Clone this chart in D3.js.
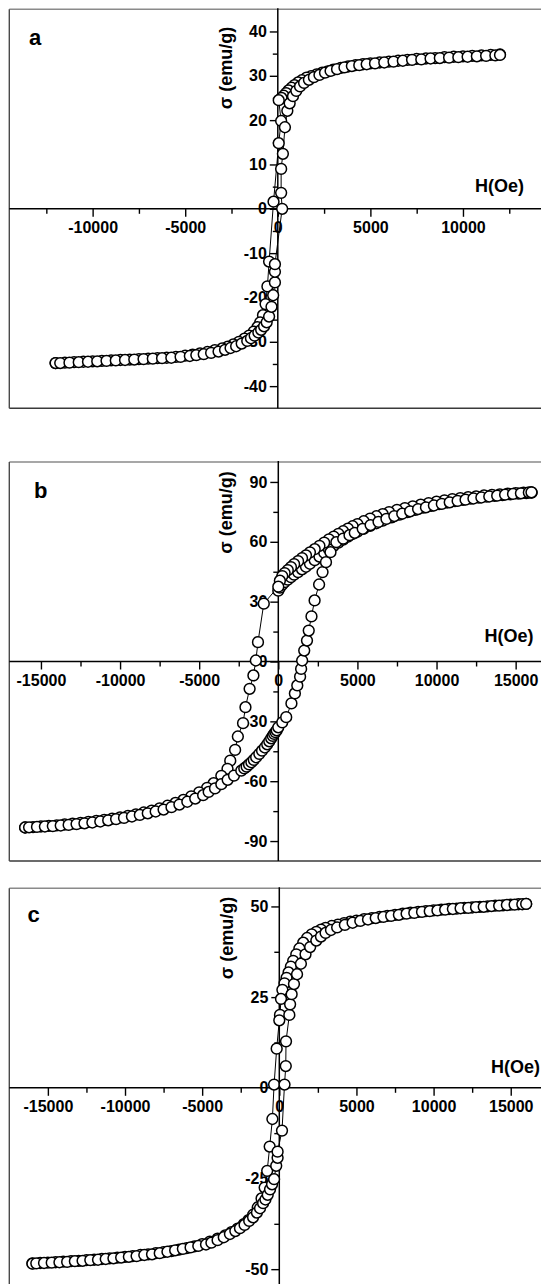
<!DOCTYPE html>
<html><head><meta charset="utf-8">
<script src="https://cdn.jsdelivr.net/npm/d3@7/dist/d3.min.js"></script>
<style>html,body{margin:0;padding:0;background:#fff;} svg{display:block;}</style>
</head><body>
<svg id="chart" width="541" height="1284"></svg>
<script>
// ---------------- DATA ----------------
// Panel a : descending branch
const hA_desc = [12000,11500,11000,10500,10000,9500,9000,8500,8000,7500,7000,6500,6000,5500,5000,
  4600,4200,3800,3400,3000, 2700,2400,2100,1800,
  1550,1300,1100,900,740,580,450,320,200,50, 180,50,
  -230,-470,-560,-660,-800,-950,-1100,-1300,-1550,-1800, -2100,-2400,-2700,-3000,
  -3400,-3800,-4200,-4600,-5000,
  -5500,-6000,-6500,-7000,-7500,-8000,-8500,-9000,-9500,-10000,-10500,-11000,-11500,-12000];
const sA_desc = [34.8,34.7,34.6,34.5,34.4,34.3,34.2,34.0,33.9,33.8,33.6,33.4,33.2,33.0,32.8,
  32.6,32.4,32.1,31.8,31.4, 31.0,30.7,30.3,29.9,
  29.6,29.0,28.5,27.9,27.3,26.7,26.1,25.5,25.0,24.5, 19.8,14.8,
  1.6,-11.9,-17.5,-21.5,-24.0,-25.6,-26.7,-27.7,-28.6,-29.3, -30.0,-30.6,-31.1,-31.5,
  -31.9,-32.3,-32.6,-32.9,-33.1,
  -33.4,-33.6,-33.7,-33.8,-33.9,-34.0,-34.1,-34.2,-34.3,-34.4,-34.5,-34.6,-34.7,-34.8];
// Panel a : ascending branch
const hA_asc = [-12000,-11750,-11250,-10750,-10250,-9750,-9250,-8750,-8250,-7750,-7250,-6750,-6250,-5750,-5250,-4750,
  -4400,-4000,-3600,-3200,-2850, -2550,-2250,-1950,-1650,
  -1450,-1250,-1050,-900,-740,-600, -470,-340,-250,-155,-155,-155,
  235,180,180,275,385,515,
  640,820,1000,1200,1420,1680,1950,2250,2550,2850,
  3200,3600,4000,4400,4800,
  5250,5750,6250,6750,7250,7750,8250,8750,9250,9750,10250,10750,11250,11750,12000];
const sA_asc = [-34.8,-34.8,-34.7,-34.6,-34.5,-34.4,-34.3,-34.2,-34.1,-34.0,-33.9,-33.8,-33.7,-33.6,-33.4,-33.2,
  -33.0,-32.8,-32.5,-32.2,-31.8, -31.4,-31.0,-30.4,-29.8,
  -29.2,-28.6,-27.9,-27.3,-26.5,-25.6, -24.3,-22.1,-19.5,-16.6,-14.2,-12.5,
  0,3.6,9.0,12.4,18.4,22.1,
  23.8,25.4,26.6,27.6,28.4,29.1,29.7,30.2,30.7,31.1,
  31.5,31.9,32.2,32.4,32.6,
  32.8,33.0,33.2,33.4,33.6,33.7,33.9,34.0,34.1,34.2,34.3,34.4,34.5,34.6,34.7];

// Panel b : initial curve
const hB_init = [0,100,250,400,600,800,1000, 1250,1500,1750,2000,
  2300,2600,2900,3200,3500,3800,4100,4400,4700,5000,
  5400,5800,6200,6600,
  7167,7667,8167,8667,9167,9667,10167,10667,11167,11667,12167,12667,13167,13667,14167,14667,15167,15667,16000];
const sB_init = [35.5,37.0,38.5,39.8,41.0,42.3,43.5, 44.8,46.2,47.5,49.0,
  50.8,52.6,54.5,56.3,58.0,59.6,61.1,62.6,63.9,65.1,
  66.6,68.0,69.3,70.6,
  72.2,73.6,74.9,76.0,77.1,78.0,78.9,79.7,80.4,81.0,81.6,82.1,82.6,83.0,83.4,83.8,84.1,84.4,84.6];
// Panel b : descending branch
const hB_desc = [16000,15500,15000,14500,14000,13500,13000,12500,12000,11500,11000,10500,10000,9500,9000,8500,8000,7500,7000,
  6600,6200,5800,5400,
  5000,4700,4400,4100,3800,3500,3200,2900,2600,2300,2000,
  1750,1500,1250,1000,
  800,600,400,250,100,0,
  -917,-1284,-1420,-1573,-1813,-2075,-2228,-2556,-2730,-3036,-3210,-3600,-4087,
  -4500,
  -5000,-5500,-6000,-6500,-7000,-7500,-8000,-8500,-9000,-9500,-10000,-10500,-11000,-11500,-12000,-12500,-13000,-13500,-14000,-14500,-15000,-15500,-16000];
const sB_desc = [84.8,84.6,84.4,84.1,83.8,83.5,83.2,82.8,82.4,81.9,81.4,80.8,80.1,79.4,78.6,77.8,76.9,76.0,74.9,
  73.9,72.8,71.6,70.3,
  68.9,67.8,66.6,65.3,64.0,62.6,61.2,59.6,58.0,56.3,54.7,
  53.2,51.8,50.3,48.8,
  47.3,45.8,44.3,42.8,40.5,37.5,
  29.0,9.7,0.5,-7.0,-13.7,-22.9,-30.9,-37.6,-44.3,-49.7,-53.8,-57.3,-61.0,
  -63.3,
  -65.6,-67.6,-69.4,-70.9,-72.3,-73.6,-74.7,-75.7,-76.6,-77.4,-78.1,-78.8,-79.4,-79.9,-80.4,-80.9,-81.3,-81.7,-82.1,-82.4,-82.7,-83.0,-83.2];
// Panel b : ascending branch
const hB_asc = [-16000,-15750,-15250,-14750,-14250,-13750,-13250,-12750,-12250,-11750,-11250,-10750,-10250,-9750,-9250,-8750,-8250,-7750,-7250,-6750,-6250,-5750,-5250,-4750,
  -4400,-4000,-3600,-3200,-2800,
  -2338,-2150,-2000,-1850,-1700,-1550,-1400,-1200,-1027,-850,-700,-570,-450,-350,-262,-180,-100,0,
  250,500,830,1048,1200,1377,1442,1507,1638,1813,
  1923,2097,2294,2578,2796,3014,3298,3669,
  4100,4500,
  4833,5333,5833,6333,6833,7333,7833,8333,8833,9333,9833,10333,10833,11333,11833,12333,12833,13333,13833,14333,14833,15333,15833,16000];
const sB_asc = [-83.2,-83.1,-82.9,-82.7,-82.5,-82.2,-81.9,-81.5,-81.1,-80.7,-80.2,-79.6,-79.0,-78.4,-77.7,-76.9,-76.1,-75.2,-74.2,-73.0,-71.7,-70.3,-68.7,-67.0,
  -65.4,-63.6,-61.5,-59.3,-57.2,
  -54.7,-53.6,-52.7,-51.6,-50.5,-49.3,-48.0,-46.3,-44.7,-43.1,-41.5,-40.0,-38.5,-37.3,-36.3,-35.4,-34.5,-33.0,
  -30.5,-27.9,-21.0,-16.0,-12.0,-7.6,-3.7,0.5,5.5,10.5,
  15.5,22.6,30.6,38.6,44.8,49.8,54.8,59.8,
  61.6,63.3,
  64.5,66.5,68.4,70.0,71.5,72.9,74.1,75.3,76.4,77.3,78.2,79.0,79.8,80.5,81.1,81.7,82.2,82.7,83.1,83.6,84.0,84.3,84.7,84.8];

// Panel c : descending branch
const hC_desc = [16000,15500,15000,14500,14000,13500,13000,12500,12000,11500,11000,10500,10000,9500,9000,8500,8000,7500,7000,6500,6000,5500,5000,
  4600,4200,3800,3400,3000, 2700,2400,2100,1800,1550, 1300,1100,900,750,600,
  470,337,200,110,45, 0,-170,-338,-448,-623, -785,-950,-1150,-1400,-1700,
  -2000,-2300,-2700,-3100,-3500, -4000,-4500,
  -5000,-5500,-6000,-6500,-7000,-7500,-8000,-8500,-9000,-9500,-10000,-10500,-11000,-11500,-12000,-12500,-13000,-13500,-14000,-14500,-15000,-15500,-16000];
const sC_desc = [50.7,50.6,50.5,50.3,50.2,50.0,49.9,49.7,49.6,49.4,49.3,49.1,48.9,48.7,48.5,48.3,48.0,47.7,47.4,47.1,46.8,46.5,46.1,
  45.8,45.4,45.0,44.6,44.1, 43.6,43.0,42.3,41.3,40.0, 38.4,36.8,35.0,33.4,31.8,
  30.3,28.8,27.0,24.5,20.1, 18.6,10.8,0.9,-8.6,-16.2, -22.9,-27.5,-30.5,-33.0,-35.0,
  -36.5,-37.6,-38.8,-39.8,-40.7, -41.6,-42.4,
  -43.1,-43.7,-44.2,-44.6,-45.0,-45.3,-45.6,-45.9,-46.1,-46.4,-46.6,-46.8,-47.0,-47.2,-47.4,-47.5,-47.7,-47.8,-47.9,-48.1,-48.2,-48.3,-48.4];
// Panel c : ascending branch
const hC_asc = [-16000,-15750,-15250,-14750,-14250,-13750,-13250,-12750,-12250,-11750,-11250,-10750,-10250,-9750,-9250,-8750,-8250,-7750,-7250,-6750,-6250,-5750,-5250,-4750,
  -4400,-4000,-3600,-3200,-2850,-2550,-2250,-1950,-1700,-1450,-1250,-1050,-900,-750,-600,-470,-338,
  -200,-110,-110,175,338,420,435,650,700,800,950,1150,1400,1700,2000,2400,2700,3000,
  3350,3750,4250,4750,5250,5750,6250,6750,7250,7750,8250,8750,9250,9750,10250,10750,11250,11750,12250,12750,13250,13750,14250,14750,15250,15750,16000];
const sC_asc = [-48.5,-48.4,-48.3,-48.2,-48.1,-48.0,-47.8,-47.7,-47.5,-47.4,-47.2,-47.0,-46.8,-46.6,-46.4,-46.1,-45.9,-45.6,-45.2,-44.8,-44.4,-44.0,-43.6,-43.2,
  -42.7,-42.0,-41.2,-40.3,-39.5,-38.7,-37.8,-36.7,-35.7,-34.4,-33.2,-31.8,-30.8,-29.5,-28.0,-26.6,-25.2,
  -21.5,-19.3,-17.6,-11.8,0.9,6.0,12.8,20.1,23.0,25.8,28.6,31.3,34.2,36.8,38.8,40.6,41.7,42.7,
  43.5,44.2,44.9,45.5,46.0,46.4,46.8,47.1,47.4,47.7,48.0,48.2,48.5,48.7,48.9,49.1,49.3,49.5,49.6,49.8,49.9,50.1,50.2,50.4,50.5,50.6,50.7];

// Tick values / labels
const xTicksA = [-10000,-5000,0,5000,10000];
const xMinorA = [-12500,-7500,-2500,2500,7500,12500];
const yTicksA = [-40,-30,-20,-10,0,10,20,30,40];
const yMinorA = [-35,-25,-15,-5,5,15,25,35];
const xTicksBC = [-15000,-10000,-5000,0,5000,10000,15000];
const xMinorBC = [-12500,-7500,-2500,2500,7500,12500];
const yTicksB = [-90,-60,-30,0,30,60,90];
const yMinorB = [-75,-45,-15,15,45,75];
const yTicksC = [-50,-25,0,25,50];
const yMinorC = [-37.5,-12.5,12.5,37.5];
const panelLetters = ["a","b","c"];
const xTitle = "H(Oe)";
const yTitle = "σ (emu/g)";

// ---------------- LAYOUT ----------------
const panels = [
  {letter: panelLetters[0], top: 9.3, bottom: 408.3, left: 9.3, right: 546.3, xDom: [-14500,14500], yDom: [-45,45],
   xTicks: xTicksA, xMinor: xMinorA, yTicks: yTicksA, yMinor: yMinorA,
   series: [[hA_desc,sA_desc],[hA_asc,sA_asc]],
   letterPos: [29, 45], yTitleY: 68, xTitlePos: [475, 191.5]},
  {letter: panelLetters[1], top: 462, bottom: 861, left: 9.3, right: 547.3, xDom: [-17000,17000], yDom: [-100,100],
   xTicks: xTicksBC, xMinor: xMinorBC, yTicks: yTicksB, yMinor: yMinorB,
   series: [[hB_init,sB_init],[hB_desc,sB_desc],[hB_asc,sB_asc]],
   letterPos: [34, 498], yTitleY: 512.5, xTitlePos: [484.5, 642]},
  {letter: panelLetters[2], top: 888.3, bottom: 1287.3, left: 9.3, right: 549.3, xDom: [-17500,17500], yDom: [-55,55],
   xTicks: xTicksBC, xMinor: xMinorBC, yTicks: yTicksC, yMinor: yMinorC,
   series: [[hC_desc,sC_desc],[hC_asc,sC_asc]],
   letterPos: [27.5, 921.7], yTitleY: 938, xTitlePos: [491, 1072.5]}
];

const FONT = "'Liberation Sans', Arial, Helvetica, sans-serif";
const fmt = d => String(d);   // plain hyphen-minus like the original
const svg = d3.select("#chart");

panels.forEach(p => {
  const x = d3.scaleLinear().domain(p.xDom).range([p.left, p.right]);
  const y = d3.scaleLinear().domain(p.yDom).range([p.bottom, p.top]);
  const g = svg.append("g");
  const x0 = x(0), y0 = y(0);

  // frame
  g.append("line").attr("x1", p.left).attr("x2", p.right).attr("y1", p.top).attr("y2", p.top)
    .attr("stroke", "#8a8a8a").attr("stroke-width", 1.4);
  g.append("line").attr("x1", p.left).attr("x2", p.right).attr("y1", p.bottom).attr("y2", p.bottom)
    .attr("stroke", "#3a3a3a").attr("stroke-width", 1.4);
  g.append("line").attr("x1", p.left).attr("x2", p.left).attr("y1", p.top).attr("y2", p.bottom)
    .attr("stroke", "#4a4a4a").attr("stroke-width", 1.4);
  g.append("line").attr("x1", p.right).attr("x2", p.right).attr("y1", p.top).attr("y2", p.bottom)
    .attr("stroke", "#4a4a4a").attr("stroke-width", 1.4);

  // x axis (at y = 0)
  const xAxisMinor = d3.axisBottom(x).tickValues(p.xMinor).tickSize(5).tickFormat("");
  const xAxisMajor = d3.axisBottom(x).tickValues(p.xTicks).tickSize(8).tickPadding(5).tickFormat(fmt);
  const gx1 = g.append("g").attr("transform", `translate(0,${y0})`).call(xAxisMinor);
  const gx2 = g.append("g").attr("transform", `translate(0,${y0})`).call(xAxisMajor);
  // y axis (at x = 0)
  const yAxisMinor = d3.axisLeft(y).tickValues(p.yMinor).tickSize(5).tickFormat("");
  const yAxisMajor = d3.axisLeft(y).tickValues(p.yTicks).tickSize(8).tickPadding(3).tickFormat(fmt);
  const gy1 = g.append("g").attr("transform", `translate(${x0},0)`).call(yAxisMinor);
  const gy2 = g.append("g").attr("transform", `translate(${x0},0)`).call(yAxisMajor);
  [gx1,gx2,gy1,gy2].forEach(a => {
    a.select(".domain").remove();
    a.selectAll(".tick line").attr("stroke", "#000").attr("stroke-width", 1.4);
    a.selectAll(".tick text").attr("fill", "#000").attr("font-family", FONT)
      .attr("font-size", 16).attr("font-weight", "bold");
  });
  // zero lines
  g.append("line").attr("x1", p.left).attr("x2", p.right).attr("y1", y0).attr("y2", y0)
    .attr("stroke", "#000").attr("stroke-width", 1.5);
  g.append("line").attr("x1", x0).attr("x2", x0).attr("y1", p.top - 1).attr("y2", p.bottom)
    .attr("stroke", "#000").attr("stroke-width", 1.5);

  // titles
  g.append("text").attr("x", p.letterPos[0]).attr("y", p.letterPos[1]).text(p.letter)
    .attr("font-family", FONT).attr("font-size", 22).attr("font-weight", "bold");
  g.append("text").attr("transform", `translate(${x0 - 46},${p.yTitleY}) rotate(-90)`)
    .attr("text-anchor", "middle").text(yTitle)
    .attr("font-family", FONT).attr("font-size", 18).attr("font-weight", "bold");
  g.append("text").attr("x", p.xTitlePos[0]).attr("y", p.xTitlePos[1]).text(xTitle)
    .attr("font-family", FONT).attr("font-size", 18).attr("font-weight", "bold");

  // data
  const line = d3.line().x(d => x(d[0])).y(d => y(d[1]));
  p.series.forEach(([hs, ss]) => {
    const pts = hs.map((h, i) => [h, ss[i]]);
    g.append("path").datum(pts).attr("d", line).attr("fill", "none")
      .attr("stroke", "#000").attr("stroke-width", 1);
  });
  p.series.forEach(([hs, ss]) => {
    const pts = hs.map((h, i) => [h, ss[i]]);
    g.append("g").selectAll("circle").data(pts).join("circle")
      .attr("cx", d => x(d[0])).attr("cy", d => y(d[1])).attr("r", 5.4)
      .attr("fill", "#fff").attr("stroke", "#000").attr("stroke-width", 1.5);
  });
});
</script>
</body></html>
